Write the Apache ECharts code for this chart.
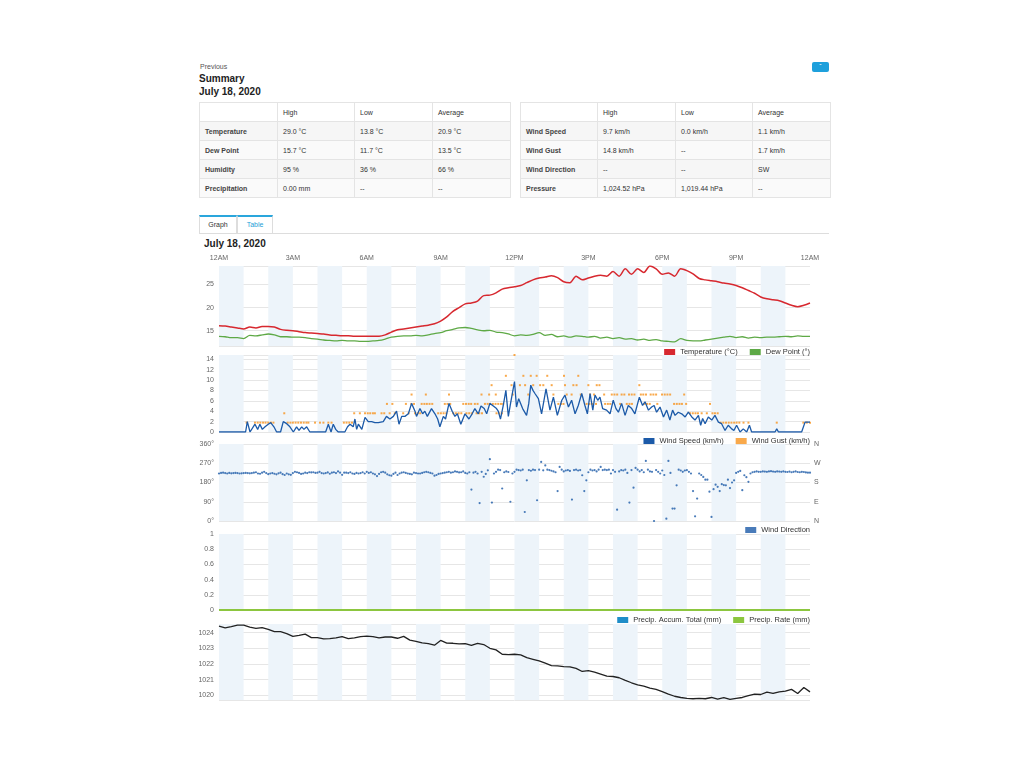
<!DOCTYPE html>
<html><head><meta charset="utf-8">
<script src="https://cdn.jsdelivr.net/npm/echarts@6/dist/echarts.min.js"></script>
<style>
body{margin:0;width:1024px;height:768px;background:#fff;font-family:"Liberation Sans",Arial,sans-serif;position:relative;overflow:hidden;color:#333}
.abs{position:absolute}
#prev{left:200px;top:63px;font-size:7px;color:#555}
#sum{left:199px;top:73px;font-size:10px;font-weight:bold;color:#222}
#date{left:199px;top:86px;font-size:10px;font-weight:bold;color:#222}
#btn{left:812px;top:62px;width:17px;height:10px;background:#1ea0dc;border-radius:2px;color:#fff;font-size:7px;text-align:center;line-height:9px}
table{position:absolute;border-collapse:collapse;font-size:7px;table-layout:fixed;top:102px}
tr{height:19px}
td{border:1px solid #e4e4e4;height:19px;padding:0 0 0 5px;box-sizing:border-box;white-space:nowrap;color:#333}
tr.h td{background:#fff}
tr.a td{background:#f6f6f6}
tr.b td{background:#fafafa}
td.l{font-weight:bold;color:#444}
#tabs{left:199px;top:215px;width:630px;height:18px;border-bottom:1px solid #ddd}
.tab{position:absolute;top:0;height:18px;border:1px solid #ddd;border-top:2px solid #2aa6dc;border-bottom:none;box-sizing:border-box;font-size:7px;text-align:center;line-height:15px;background:#fff}
#ctitle{left:204px;top:238px;font-size:10px;font-weight:bold;color:#222}
#chart{left:199px;top:250px;width:632px;height:460px}
</style></head>
<body>
<div id="prev" class="abs">Previous</div>
<div id="sum" class="abs">Summary</div>
<div id="date" class="abs">July 18, 2020</div>
<div id="btn" class="abs">&#711;</div>
<table style="left:199px;width:311px">
<colgroup><col style="width:78px"><col style="width:77px"><col style="width:78px"><col style="width:78px"></colgroup>
<tr class="h"><td></td><td>High</td><td>Low</td><td>Average</td></tr>
<tr class="a"><td class="l">Temperature</td><td>29.0 °C</td><td>13.8 °C</td><td>20.9 °C</td></tr>
<tr class="b"><td class="l">Dew Point</td><td>15.7 °C</td><td>11.7 °C</td><td>13.5 °C</td></tr>
<tr class="a"><td class="l">Humidity</td><td>95 %</td><td>36 %</td><td>66 %</td></tr>
<tr class="b"><td class="l">Precipitation</td><td>0.00 mm</td><td>--</td><td>--</td></tr>
</table>
<table style="left:520px;width:310px">
<colgroup><col style="width:77px"><col style="width:78px"><col style="width:77px"><col style="width:78px"></colgroup>
<tr class="h"><td></td><td>High</td><td>Low</td><td>Average</td></tr>
<tr class="a"><td class="l">Wind Speed</td><td>9.7 km/h</td><td>0.0 km/h</td><td>1.1 km/h</td></tr>
<tr class="b"><td class="l">Wind Gust</td><td>14.8 km/h</td><td>--</td><td>1.7 km/h</td></tr>
<tr class="a"><td class="l">Wind Direction</td><td>--</td><td>--</td><td>SW</td></tr>
<tr class="b"><td class="l">Pressure</td><td>1,024.52 hPa</td><td>1,019.44 hPa</td><td>--</td></tr>
</table>
<div id="tabs" class="abs">
<div class="tab" style="left:0;width:38px;color:#333">Graph</div>
<div class="tab" style="left:38px;width:36px;color:#1e9fd7;background:#fff">Table</div>
</div>
<div id="ctitle" class="abs">July 18, 2020</div>
<div id="chart" class="abs"></div>
<script>
// ---- data (hours since midnight) ----
const hourLabels = ['12AM','3AM','6AM','9AM','12PM','3PM','6PM','9PM','12AM'];
const compassLabels = ['N','E','S','W','N'];
// 15-minute readings
const temperature = [16.1,16.0,15.8,15.6, 15.4,15.8,15.6,15.9, 15.9,15.8,15.3,15.1, 15.0,14.8,14.6,14.5,
 14.4,14.3,14.1,14.0, 13.9,13.9,13.8,13.8, 13.8,13.8,13.8,14.1, 14.7,15.2,15.4,15.6, 15.8,16.0,16.2,16.5,
 17.1,18.0,19.2,20.0, 20.8,21.0,21.4,22.6, 22.7,23.2,24.0,24.3, 24.5,24.8,25.4,26.0, 26.4,26.6,26.9,26.5,
 25.6,25.4,26.8,26.0, 26.4,26.8,27.0,26.8, 27.8,26.8,28.4,27.2, 28.4,27.6,29.0,28.4, 27.2,27.5,26.8,28.4,
 28.0,27.3,26.3,26.0, 25.8,25.6,25.3,25.1, 24.8,24.3,23.7,23.1, 22.3,21.9,21.7,21.5, 21.0,20.5,20.2,20.5, 21.0];
const dewPoint = [13.8,13.7,13.5,13.5, 13.3,14.0,13.9,14.1, 14.3,14.1,13.7,13.7, 13.6,13.6,13.5,13.3,
 13.2,13.0,12.9,12.8, 12.9,12.8,12.8,12.7, 12.7,12.8,12.9,13.2, 13.6,13.8,13.9,13.9, 14.0,13.9,14.1,14.4,
 14.6,15.0,15.3,15.6, 15.7,15.5,15.2,15.0, 15.1,14.7,14.6,14.3, 13.9,14.1,14.0,14.2, 14.6,14.0,14.2,13.7,
 13.9,13.6,13.9,13.8, 13.6,13.8,13.4,13.6, 13.3,13.5,13.2,13.3, 13.0,13.2,12.9,13.1, 12.8,12.7,12.6,13.3,
 12.9,12.8,12.8,13.0, 13.2,13.4,13.6,13.8, 13.5,13.7,13.4,13.6, 13.5,13.6,13.6,13.7, 13.8,13.7,13.9,13.8, 13.8];
const pressure = [1024.42,1024.30,1024.38,1024.48, 1024.48,1024.35,1024.27,1024.32, 1024.20,1024.06,1024.06,1023.94,
 1023.76,1023.82,1023.90,1023.68, 1023.68,1023.60,1023.62,1023.66, 1023.74,1023.62,1023.66,1023.75,
 1023.78,1023.74,1023.66,1023.72, 1023.72,1023.64,1023.76,1023.52, 1023.44,1023.34,1023.30,1023.20,
 1023.50,1023.33,1023.32,1023.28, 1023.30,1023.18,1023.32,1023.24, 1023.00,1022.90,1022.62,1022.60,
 1022.62,1022.58,1022.40,1022.30, 1022.20,1022.05,1021.90,1021.88, 1021.83,1021.82,1021.72,1021.52,
 1021.58,1021.48,1021.35,1021.22, 1021.20,1021.12,1020.95,1020.80, 1020.66,1020.58,1020.46,1020.38,
 1020.24,1020.08,1019.94,1019.86, 1019.80,1019.78,1019.80,1019.78, 1019.86,1019.76,1019.85,1019.74,
 1019.80,1019.86,1019.98,1020.08, 1020.05,1020.20,1020.12,1020.22, 1020.26,1020.38,1020.12,1020.50, 1020.22];
// wind speed [hour, km/h]
const windSpeed = [[0,0],[1.08,0],[1.15,2],[1.26,0],[1.46,1.5],[1.57,0.5],[1.66,1.5],[1.76,0.5],[1.87,1],[2.0,1.5],[2.1,1.8],[2.23,1],[2.34,0],[2.5,0],[2.61,2],[2.75,1.6],[2.88,1],[3.02,0],[3.15,1],[3.25,0.3],[3.36,1],[3.45,0.5],[3.56,1],[3.69,0],[4.1,0],[4.17,0.3],[4.33,0],[4.44,1.5],[4.55,0],[4.64,1.5],[4.74,0.5],[4.84,0],[5.11,0],[5.22,1],[5.32,1.5],[5.45,1],[5.52,2.5],[5.59,0.5],[5.66,1.5],[5.8,0.5],[5.93,2.8],[6.06,2],[6.2,2],[6.33,1.8],[6.47,1.8],[6.54,1.5],[6.67,2],[6.8,3],[6.94,2.5],[7.08,3],[7.21,4],[7.31,1.5],[7.42,3],[7.55,3],[7.69,3.5],[7.82,5.5],[7.96,4],[8.02,3],[8.16,4.5],[8.27,3.5],[8.36,4],[8.46,3],[8.63,4.5],[8.77,3.5],[8.88,2.5],[8.97,1],[9.11,3],[9.2,2.5],[9.34,5.5],[9.47,4],[9.58,3],[9.68,3.5],[9.82,1.5],[9.99,3.5],[10.15,2.5],[10.28,3.5],[10.39,4.5],[10.53,3.5],[10.64,5],[10.77,4.5],[10.87,3.5],[11.0,5.5],[11.14,5],[11.27,4.5],[11.34,4],[11.43,2.5],[11.54,5],[11.65,8],[11.75,3],[11.84,5.5],[11.91,5.5],[12.0,9.7],
 [12.08,4.8],[12.17,6.4],[12.25,6.1],[12.33,4.5],[12.49,3.2],[12.58,5.5],[12.66,9.0],[12.75,8.0],[12.83,7.4],[12.97,6.4],[13.1,3.5],[13.28,8.3],[13.44,4.2],[13.58,6.7],[13.74,3.2],[13.92,6.1],[14.05,7.1],[14.19,4.8],[14.32,6.1],[14.46,3.5],[14.59,5.1],[14.73,7.4],[14.86,5.1],[14.96,3.5],[15.07,7.4],[15.18,4.2],[15.27,7.1],[15.38,6.1],[15.47,6.7],[15.58,4.5],[15.74,4.2],[15.88,3.5],[16.01,6.1],[16.12,4.5],[16.22,3.8],[16.35,5.5],[16.49,3.2],[16.62,5.1],[16.76,4.5],[16.89,3.5],[17.07,6.7],[17.2,5.1],[17.3,5.8],[17.44,4.2],[17.57,4.8],[17.67,5.1],[17.77,3.8],[17.91,4.8],[18.05,2.9],[18.18,4.2],[18.31,2.3],[18.42,4.2],[18.52,3.2],[18.65,3.8],[18.79,3.5],[18.93,2.9],[19.06,3.8],[19.2,2.9],[19.33,2.3],[19.47,3.2],[19.56,1.3],[19.64,2.6],[19.74,1.6],[19.87,2.9],[20.01,2.3],[20.14,3.2],[20.28,1.9],[20.41,1.6],[20.55,0.3],[20.68,1.3],[20.82,0.6],[20.91,0.3],[21.02,1.3],[21.16,0],[21.29,0.6],[21.43,0],[21.54,1.3],[21.63,0],[22.58,0],[22.65,0.6],[22.72,0],[23.66,0],[23.8,1.9],[24,1.9]];
// wind gust: levels (km/h) and the hours each level was reported
const gustLevels = [1.8, 3.6, 5.4, 7.2, 9.0, 10.8, 14.8];
const gustHours = [
 [1.12,1.46,1.57,1.68,1.79,1.89,2.0,2.11,2.21,2.79,2.9,3.0,3.11,3.22,3.33,3.44,3.55,3.63,3.9,4.1,4.24,4.44,4.57,5.07,5.18,5.29,5.4,20.37,20.48,20.59,20.7,20.81,20.92,21.02,21.13,21.3,21.5,22.65,23.73,23.87,24.0],
 [2.65,5.49,5.72,5.93,6.04,6.14,6.25,6.33,6.6,6.71,6.93,7.14,7.48,7.7,7.96,8.07,8.17,8.9,9.01,9.12,9.23,9.51,9.62,9.73,9.84,10.05,10.16,10.27,10.46,10.57,10.68,11.27,11.38,11.49,19.13,19.24,19.35,19.45,19.6,19.81,20.04,20.14,20.25],
 [6.82,7.04,7.59,7.81,7.92,8.23,8.34,8.44,8.55,8.66,9.17,9.28,9.39,9.92,10.03,10.14,10.24,10.39,10.5,10.8,10.91,11.01,11.12,11.23,11.34,11.45,11.54,13.78,13.89,13.99,14.93,15.04,15.15,15.31,15.68,15.79,15.89,16.29,16.56,16.67,16.77,17.28,17.38,17.49,17.8,18.48,18.59,18.7,18.8,18.97,19.94],
 [7.82,8.4,9.34,10.66,10.97,11.24,11.93,12.56,13.58,14.12,14.32,14.69,15.07,15.23,15.64,15.95,16.06,16.17,16.35,16.46,16.65,16.76,16.87,17.13,17.23,17.34,17.53,17.64,17.75,17.99,18.1,18.21,18.32,18.89],
 [11.07,11.88,12.22,12.43,12.76,13.04,13.17,13.51,14.05,14.39,14.52,15.0,15.34,15.45,17.07],
 [11.65,12.36,12.66,12.9,13.33,14.01,14.59],
 [12.0]];
// wind direction, degrees, every 5 minutes
const windDirection = [
 222,225,226,224,222,225,223,224,225,224,222,223,
 224,225,224,223,224,226,228,222,221,226,230,224,
 219,222,224,221,218,223,226,219,215,222,218,216,
 224,230,228,225,220,222,226,224,228,227,228,225,
 226,230,224,222,224,227,221,226,228,224,232,226,
 216,226,226,224,228,222,220,225,222,224,228,222,
 230,225,228,222,218,210,220,228,230,226,218,214,
 212,220,226,215,222,226,228,225,222,220,218,226,
 224,222,222,225,228,230,228,225,222,212,215,220,
 222,224,226,228,230,226,228,232,230,227,228,232,
 225,222,228,147,226,230,222,84,230,207,220,237,
 289,86,222,230,240,238,152,228,232,229,90,222,
 230,240,238,236,240,42,190,238,235,240,238,97,
 240,276,237,260,240,238,235,232,228,140,253,240,
 232,236,238,234,100,238,240,236,238,214,140,190,
 228,240,236,238,232,240,253,238,240,238,240,222,
 238,230,53,232,238,236,240,225,86,238,156,248,
 240,232,238,228,281,240,232,230,0,238,230,222,
 236,215,11,281,225,58,58,167,240,236,230,236,
 238,230,222,140,22,105,222,215,206,193,193,137,
 19,149,170,160,140,172,168,167,193,154,180,190,
 225,230,234,144,214,205,183,222,228,230,232,230,
 230,232,231,230,232,233,231,230,232,231,230,232,
 230,229,231,228,230,232,229,228,230,229,227,226,
 226];
// hourly precipitation (mm)
const precipAccum = [0,0,0,0,0,0,0,0,0,0,0,0,0,0,0,0,0,0,0,0,0,0,0,0,0];
const precipRate  = [0,0,0,0,0,0,0,0,0,0,0,0,0,0,0,0,0,0,0,0,0,0,0,0,0];

// ---- chart ----
const FONT = '"Liberation Sans", Arial, sans-serif';
const C = {temp:'#d7282f', dew:'#5ea946', wind:'#1c5aa8', gust:'#f7931e', dir:'#1c5aa8', accum:'#1f8dc8', rate:'#8cc63f', pres:'#222222'};
const gridPos = [{top:16,height:80},{top:105,height:77},{top:194,height:77},{top:284,height:76},{top:374,height:76}];
const grid = gridPos.map(g => ({left:20, width:591, top:g.top, height:g.height, containLabel:false, outerBoundsMode:'none'}));
const lbl = {fontSize:7, color:'#666', fontFamily:FONT, margin:5};
const split = {show:true, lineStyle:{color:'#e6e6e6', width:1}};

const xAxis = gridPos.map((g,i) => ({type:'value', gridIndex:i, min:0, max:24, interval:1, position:'bottom',
  axisLine:{show:false}, axisTick:{show:false}, axisLabel:{show:false}, splitLine:{show:false},
  splitArea:{show:true, areaStyle:{color:['#edf4fa','rgba(255,255,255,0)']}}}));
xAxis.push({type:'value', gridIndex:0, min:0, max:24, interval:3, position:'top',
  axisLine:{show:false}, axisTick:{show:false}, splitLine:{show:false},
  axisLabel:Object.assign({}, lbl, {margin:4, showMinLabel:true, showMaxLabel:true, formatter:v => hourLabels[Math.round(v/3)]})});

const yBase = (i, extra) => Object.assign({type:'value', gridIndex:i, axisLine:{show:false}, axisTick:{show:false}, splitLine:split, axisLabel:Object.assign({}, lbl)}, extra);
const yAxis = [
  yBase(0, {min:11.7, max:29, splitNumber:4, axisLabel:Object.assign({}, lbl, {showMinLabel:false, showMaxLabel:false})}),
  yBase(1, {min:0, max:14.8, interval:2, axisLabel:Object.assign({}, lbl, {showMaxLabel:false})}),
  yBase(2, {min:0, max:360, interval:90, axisLabel:Object.assign({}, lbl, {formatter:'{value}°'})}),
  yBase(2, {min:0, max:360, interval:90, position:'right', splitLine:{show:false}, axisLabel:Object.assign({}, lbl, {margin:4, formatter:v => compassLabels[Math.round(v/90)]})}),
  yBase(3, {min:0, max:1, interval:0.2}),
  yBase(4, {min:1019.7, max:1024.55, splitNumber:5, axisLabel:Object.assign({}, lbl, {showMinLabel:false, showMaxLabel:false, formatter:v => String(Math.round(v))})})
];

const legendBase = (top, names) => ({top:top, right:21, data:names, icon:'rect', itemWidth:11, itemHeight:6, itemGap:12,
  textStyle:{fontSize:7.5, color:'#333', fontFamily:FONT}, selectedMode:false, padding:0});

const q = (arr) => arr.map((v,i) => [i*0.25, v]);
const gustData = [];
gustLevels.forEach((lv, k) => gustHours[k].forEach(h => gustData.push([h, lv])));

const series = [
  {name:'Temperature (°C)', type:'line', xAxisIndex:0, yAxisIndex:0, data:q(temperature), showSymbol:false, smooth:0.3, lineStyle:{width:1.5, color:C.temp}, itemStyle:{color:C.temp}},
  {name:'Dew Point (°)', type:'line', xAxisIndex:0, yAxisIndex:0, data:q(dewPoint), showSymbol:false, smooth:0.3, lineStyle:{width:1.3, color:C.dew}, itemStyle:{color:C.dew}},
  {name:'Wind Gust (km/h)', type:'scatter', xAxisIndex:1, yAxisIndex:1, data:gustData, symbol:'rect', symbolSize:[2,2], itemStyle:{color:C.gust}},
  {name:'Wind Speed (km/h)', type:'line', xAxisIndex:1, yAxisIndex:1, data:windSpeed, showSymbol:false, lineStyle:{width:1.3, color:C.wind}, itemStyle:{color:C.wind}},
  {name:'Wind Direction', type:'scatter', xAxisIndex:2, yAxisIndex:2, data:windDirection.map((v,i) => [i/12, v]), symbolSize:2.2, itemStyle:{color:C.dir}},
  {name:'Precip. Accum. Total (mm)', type:'line', xAxisIndex:3, yAxisIndex:4, data:precipAccum.map((v,i) => [i, v]), showSymbol:false, lineStyle:{width:1.5, color:C.accum}, itemStyle:{color:C.accum}},
  {name:'Precip. Rate (mm)', type:'line', xAxisIndex:3, yAxisIndex:4, data:precipRate.map((v,i) => [i, v]), showSymbol:false, lineStyle:{width:2, color:C.rate}, itemStyle:{color:C.rate}},
  {name:'Pressure', type:'line', xAxisIndex:4, yAxisIndex:5, data:q(pressure), showSymbol:false, lineStyle:{width:1.3, color:C.pres}, itemStyle:{color:C.pres}}
];

const chart = echarts.init(document.getElementById('chart'), null, {renderer:'canvas'});
chart.setOption({
  animation:false,
  textStyle:{fontFamily:FONT},
  grid:grid, xAxis:xAxis, yAxis:yAxis,
  legend:[
    legendBase(98, ['Temperature (°C)','Dew Point (°)']),
    legendBase(187, ['Wind Speed (km/h)','Wind Gust (km/h)']),
    legendBase(276, ['Wind Direction']),
    legendBase(366, ['Precip. Accum. Total (mm)','Precip. Rate (mm)'])
  ],
  series:series
});
</script>
</body></html>
